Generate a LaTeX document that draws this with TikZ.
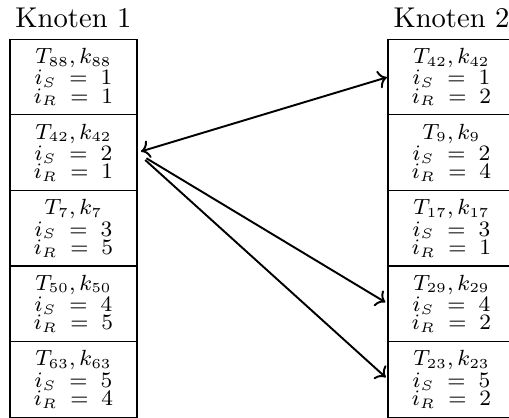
\documentclass[tikz,border=0pt]{standalone}
\usetikzlibrary{arrows.meta, positioning}
\tikzset{
  cell/.style={draw, line width=0.4pt, outer sep=0pt, align=center, inner sep=0pt,
    minimum width=46.2pt, minimum height=27.5pt, font=\fontsize{7.6}{6.6}\selectfont},
  title/.style={font=\fontsize{10.4}{12}\selectfont, anchor=base},
  link/.style={line width=0.7pt},
}
\begin{document}
\begin{tikzpicture}[x=0.3636pt, y=-0.3636pt]
  \useasboundingbox (0,0) rectangle (509,417);
  % node 1
  \node[title] (t1) at (73.5,27) {Knoten 1};
  \foreach \t/\s/\r [count=\i] in {88/1/1, 42/2/1, 7/3/5, 50/4/5, 63/5/4}
    \node[cell] (l\i) at (73.5, {77+(\i-1)*75.6}) {$T_{\t}, k_{\t}$\\ $i_S \;=\; \s$\\ $i_R \;=\; \r$};
  % node 2
  \node[title] (t2) at (451.5,27) {Knoten 2};
  \foreach \t/\s/\r [count=\i] in {42/1/2, 9/2/4, 17/3/1, 29/4/2, 23/5/2}
    \node[cell] (r\i) at (451.5, {77+(\i-1)*75.6}) {$T_{\t}, k_{\t}$\\ $i_S \;=\; \s$\\ $i_R \;=\; \r$};
  % links
  \draw[link, <->, shorten <=1.5pt, shorten >=0.4pt] (l2.east) -- (r1.west);
  \draw[link, ->, shorten <=4pt, shorten >=1.1pt] (l2.east) -- (r4.west);
  \draw[link, ->, shorten <=4pt, shorten >=1.1pt] (l2.east) -- (r5.west);
\end{tikzpicture}
\end{document}
